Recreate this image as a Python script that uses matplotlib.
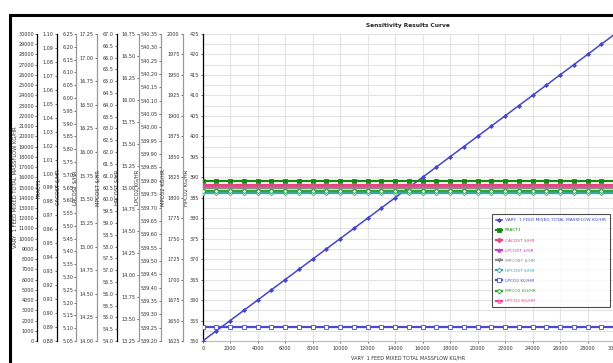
import numpy as np
import matplotlib
matplotlib.use("Agg")
import matplotlib.pyplot as plt
from matplotlib.patches import Rectangle

plt.rcParams['font.family'] = ['Liberation Sans Narrow', 'DejaVu Sans']
fs = 3.5
plt.rcParams['xtick.labelsize'] = fs
plt.rcParams['ytick.labelsize'] = fs

# sweep of the feed mass flow (kg/hr)
feed_flow = [0, 1000, 2000, 3000, 4000, 5000, 6000, 7000, 8000, 9000, 10000,
             11000, 12000, 13000, 14000, 15000, 16000, 17000, 18000, 19000, 20000,
             21000, 22000, 23000, 24000, 25000, 26000, 27000, 28000, 29000, 30000]
vary_feed = [0, 1000, 2000, 3000, 4000, 5000, 6000, 7000, 8000, 9000, 10000,
             11000, 12000, 13000, 14000, 15000, 16000, 17000, 18000, 19000, 20000,
             21000, 22000, 23000, 24000, 25000, 26000, 27000, 28000, 29000, 30000]
fract1 = [0.9949] * 31
cacost = [5.658] * 31
lpcost = [15.625] * 31
mpcost = [60.46] * 31
hpcost = [14.937] * 31
lpco2 = [539.252] * 31
mpco2 = [1808.6] * 31
hpco2 = [387.7] * 31

names = ["VARY  1 FEED MIXED TOTAL MASSFLOW KG/HR", "FRACT1", "CACOST $/HR",
         "LPCOST $/HR", "MPCOST $/HR", "HPCOST $/HR", "LPCO2 KG/HR",
         "MPCO2 KG/HR", "HPCO2 KG/HR"]
series = [vary_feed, fract1, cacost, lpcost, mpcost, hpcost, lpco2, mpco2, hpco2]

# (ymin, ymax, step, fmt) for every y axis
y_scales = [(0, 30000, 1000, "%d"), (0.88, 1.10, 0.01, "%.2f"),
            (5.05, 6.25, 0.05, "%.2f"), (14.00, 17.25, 0.25, "%.2f"),
            (54.0, 67.0, 0.5, "%.1f"), (13.25, 16.75, 0.25, "%.2f"),
            (539.20, 540.35, 0.05, "%.2f"), (1625, 2000, 25, "%d"),
            (350, 425, 5, "%d")]
spine_px = [37.5, 57, 76.5, 97, 117, 139, 161, 183, 202.7]
spine_col = ["black", "black", "#999999", "#999999", "black",
             "#999999", "#999999", "#999999", "black"]
styles = [("D", "#4646cc", True), ("s", "#128a12", True), ("D", "#e8457e", True),
          ("^", "#c93fc9", True), ("v", "#8a8a8a", True), ("D", "#35aaaa", False),
          ("s", "#4a4ad0", False), ("D", "#2fa52f", False), ("^", "#f5458f", False)]

W, H = 613, 363
fig = plt.figure(figsize=(W / 100, H / 100), dpi=100)
left, right, bottom, top = 202.7, 615, 341, 34
ax = fig.add_axes([left / W, 1 - bottom / H, (right - left) / W, (bottom - top) / H])

axes = []
for i in range(9):
    a = ax if i == 8 else ax.twinx()
    lo, hi, st, fmt = y_scales[i]
    a.set_ylim(lo, hi)
    if i < 8:
        for s in ["right", "top", "bottom"]:
            a.spines[s].set_visible(False)
        a.spines["left"].set_visible(True)
        a.spines["left"].set_position(("axes", (spine_px[i] - left) / (right - left)))
        a.yaxis.set_ticks_position("left")
        a.yaxis.set_label_position("left")
    ticks = np.arange(lo, hi + st / 2, st)
    a.set_yticks(ticks)
    a.set_yticklabels([fmt % t for t in ticks])
    a.spines["left"].set_color(spine_col[i])
    a.spines["left"].set_linewidth(0.9)
    a.tick_params(axis="y", length=1.5, width=0.5, pad=1, colors="#333333",
                  labelsize=fs)
    a.set_ylabel(names[i], fontsize=3.8, labelpad=1, color="#333333")
    axes.append(a)

ax.set_xlim(0, 30000)
ax.set_xticks(np.arange(0, 30001, 2000))
ax.set_xticklabels([str(v) for v in range(0, 30001, 2000)])
ax.tick_params(axis="x", length=1.5, width=0.5, pad=2, labelsize=fs, colors="#333333")
ax.set_yticks(np.arange(350, 425.1, 2.5), minor=True)
ax.tick_params(axis="y", which="minor", length=0)
ax.grid(True, which="both", color="#e3e3e3", linewidth=0.8)
ax.set_axisbelow(True)
ax.spines["top"].set_visible(False)
ax.spines["right"].set_visible(False)
ax.spines["bottom"].set_color("#bbbbbb")

handles = []
for i in range(9):
    mk, col, filled = styles[i]
    lw = 1.1 if i == 0 else 1.6
    ms = 2.0 if i == 0 else 2.4
    h, = axes[i].plot(feed_flow, series[i], color=col, lw=lw, marker=mk, ms=ms,
                      mfc=col if filled else "white", mec=col, mew=0.6,
                      label=names[i], zorder=3)
    handles.append(h)

leg = fig.legend(handles=handles, loc="upper left",
                 bbox_to_anchor=(490 / W, 1 - 212 / H), fontsize=3.2,
                 labelcolor="linecolor", frameon=True, fancybox=False,
                 borderpad=0.9, labelspacing=1.35, handlelength=1.4,
                 handletextpad=0.6)
leg.get_frame().set_edgecolor("#222222")
leg.get_frame().set_linewidth(0.8)

fig.text(408 / W, 1 - 25 / H, "Sensitivity Results Curve", fontsize=4.2,
         fontweight="bold", ha="center", va="center", color="#222222")
fig.text(408 / W, 1 - 358 / H, "VARY  1 FEED MIXED TOTAL MASSFLOW KG/HR",
         fontsize=fs, ha="center", va="center", color="#333333")

fig.add_artist(Rectangle((10 / W, -0.2), 1.5, 1.2 - 15 / H, transform=fig.transFigure,
                         fill=False, edgecolor="black", linewidth=2.2))

fig.savefig("out.png", dpi=100)
